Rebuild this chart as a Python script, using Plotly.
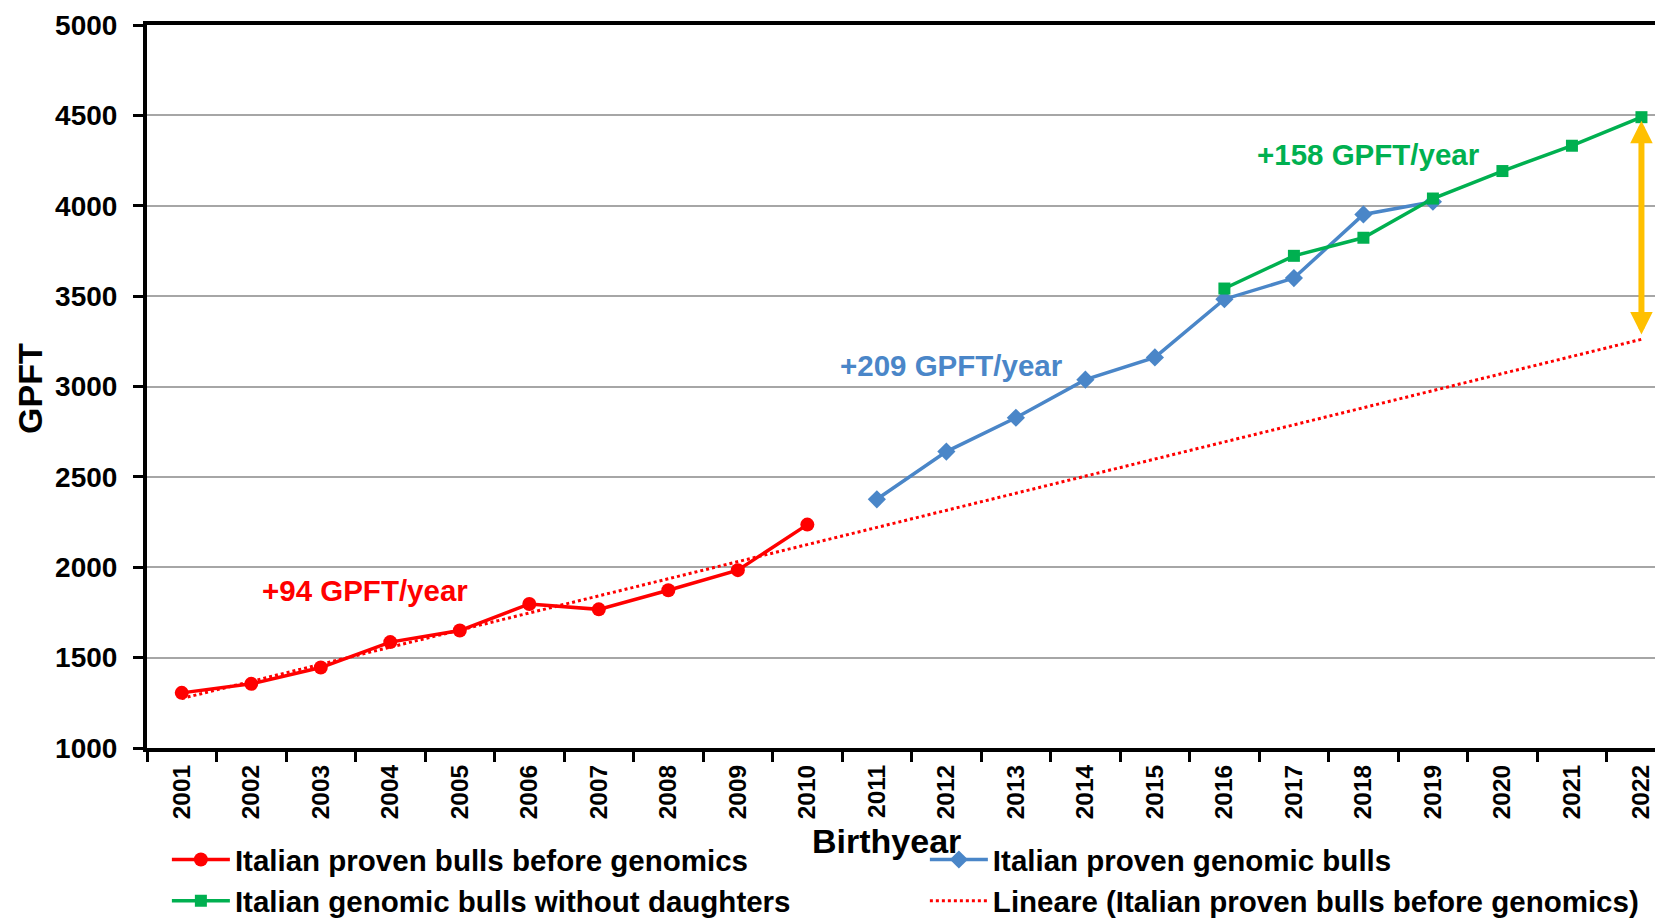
import numpy as np
import plotly.graph_objects as go

# birth years on the x axis
years = [str(y) for y in range(2001, 2023)]

# Italian proven bulls before genomics (2001-2010)
before_years = years[:10]
before_gpft = [1305, 1355, 1445, 1586, 1650, 1797, 1767, 1873, 1984, 2236]

# Italian proven genomic bulls (2011-2019)
genomic_years = years[10:19]
genomic_gpft = [2376, 2640, 2827, 3038, 3161, 3483, 3600, 3952, 4022]

# Italian genomic bulls without daughters (2016-2022)
young_years = years[15:]
young_gpft = [3542, 3723, 3823, 4040, 4192, 4332, 4490]

# gap arrow at 2022
arrow_top = 4470
arrow_bottom = 3280

FONT = "Liberation Sans, Arial, sans-serif"
RED = "#FF0000"
BLUE = "#4A86C8"
GREEN = "#00B050"
GOLD = "#FFC000"

# linear trend of the pre-genomics bulls, extended to 2022
idx = np.arange(len(before_gpft))
slope, intercept = np.polyfit(idx, before_gpft, 1)
trend = intercept + slope * np.arange(len(years))

fig = go.Figure()

fig.add_trace(go.Scatter(
    x=before_years, y=before_gpft, mode="lines+markers",
    name="Italian proven bulls before genomics", legend="legend",
    line=dict(color=RED, width=3.5),
    marker=dict(symbol="circle", size=14, color=RED),
))
fig.add_trace(go.Scatter(
    x=genomic_years, y=genomic_gpft, mode="lines+markers",
    name="Italian proven genomic bulls", legend="legend2",
    line=dict(color=BLUE, width=3.5),
    marker=dict(symbol="diamond", size=14, color=BLUE),
))
fig.add_trace(go.Scatter(
    x=young_years, y=young_gpft, mode="lines+markers",
    name="Italian genomic bulls without daughters", legend="legend",
    line=dict(color=GREEN, width=3.5),
    marker=dict(symbol="square", size=12, color=GREEN),
))
fig.add_trace(go.Scatter(
    x=years, y=trend, mode="lines",
    name="Lineare (Italian proven bulls before genomics)", legend="legend2",
    line=dict(color=RED, width=3, dash="dot"),
))

# slope labels
fig.add_annotation(x=2.64, y=1873, text="+94 GPFT/year", showarrow=False,
                   font=dict(family=FONT, size=29.5, color=RED, weight="bold"))
fig.add_annotation(x=11.08, y=3114, text="+209 GPFT/year", showarrow=False,
                   font=dict(family=FONT, size=29.5, color=BLUE, weight="bold"))
fig.add_annotation(x=17.08, y=4285, text="+158 GPFT/year", showarrow=False,
                   font=dict(family=FONT, size=29.5, color=GREEN, weight="bold"))

# double-headed arrow showing the gap
last = years.index("2022")
fig.add_annotation(x=last, y=arrow_top, ax=last, ay=arrow_bottom,
                   xref="x", yref="y", axref="x", ayref="y",
                   text="", showarrow=True, arrowhead=2, arrowside="end+start",
                   arrowsize=0.75, arrowwidth=6, arrowcolor=GOLD)

# axis titles
fig.add_annotation(x=0.488, y=-0.1286, xref="paper", yref="paper",
                   text="Birthyear", showarrow=False, xanchor="center", yanchor="middle",
                   font=dict(family=FONT, size=34, color="black", weight="bold"))
fig.add_annotation(x=-0.0772, y=0.498, xref="paper", yref="paper",
                   text="GPFT", showarrow=False, textangle=-90,
                   xanchor="center", yanchor="middle",
                   font=dict(family=FONT, size=34, color="black", weight="bold"))

legend_font = dict(family=FONT, size=29.5, color="black", weight="bold")

# page body keeps an 8px margin, so the figure is 8px smaller than the window
fig.update_layout(
    width=1655, height=911,
    margin=dict(l=139, r=0, t=17, b=171, autoexpand=False),
    plot_bgcolor="white", paper_bgcolor="white",
    font=dict(family=FONT, color="black"),
    showlegend=True,
    legend=dict(
        xref="container", yref="container",
        x=0.096, y=0.0935, xanchor="left", yanchor="top",
        itemwidth=58, font=legend_font, bgcolor="rgba(0,0,0,0)",
    ),
    legend2=dict(
        xref="container", yref="container",
        x=0.554, y=0.0935, xanchor="left", yanchor="top",
        itemwidth=58, font=legend_font, bgcolor="rgba(0,0,0,0)",
    ),
)

fig.update_xaxes(
    type="category", categoryorder="array", categoryarray=years,
    range=[-0.5, 21.31],
    showline=True, linecolor="black", linewidth=4, mirror=True,
    ticks="outside", tickson="boundaries", ticklen=10, tickwidth=3, tickcolor="black",
    tickangle=-90, showgrid=False, ticklabelstandoff=3,
    tickfont=dict(family=FONT, size=24.5, color="black", weight="bold"),
)
fig.update_yaxes(
    range=[1000, 5000], dtick=500,
    showline=True, linecolor="black", linewidth=4,
    ticks="outside", ticklen=10, tickwidth=3, tickcolor="black",
    showgrid=True, gridcolor="#A6A6A6", gridwidth=1.5,
    zeroline=False, ticklabelstandoff=10,
    tickfont=dict(family=FONT, size=28, color="black", weight="bold"),
)

fig.write_html("out.html")
